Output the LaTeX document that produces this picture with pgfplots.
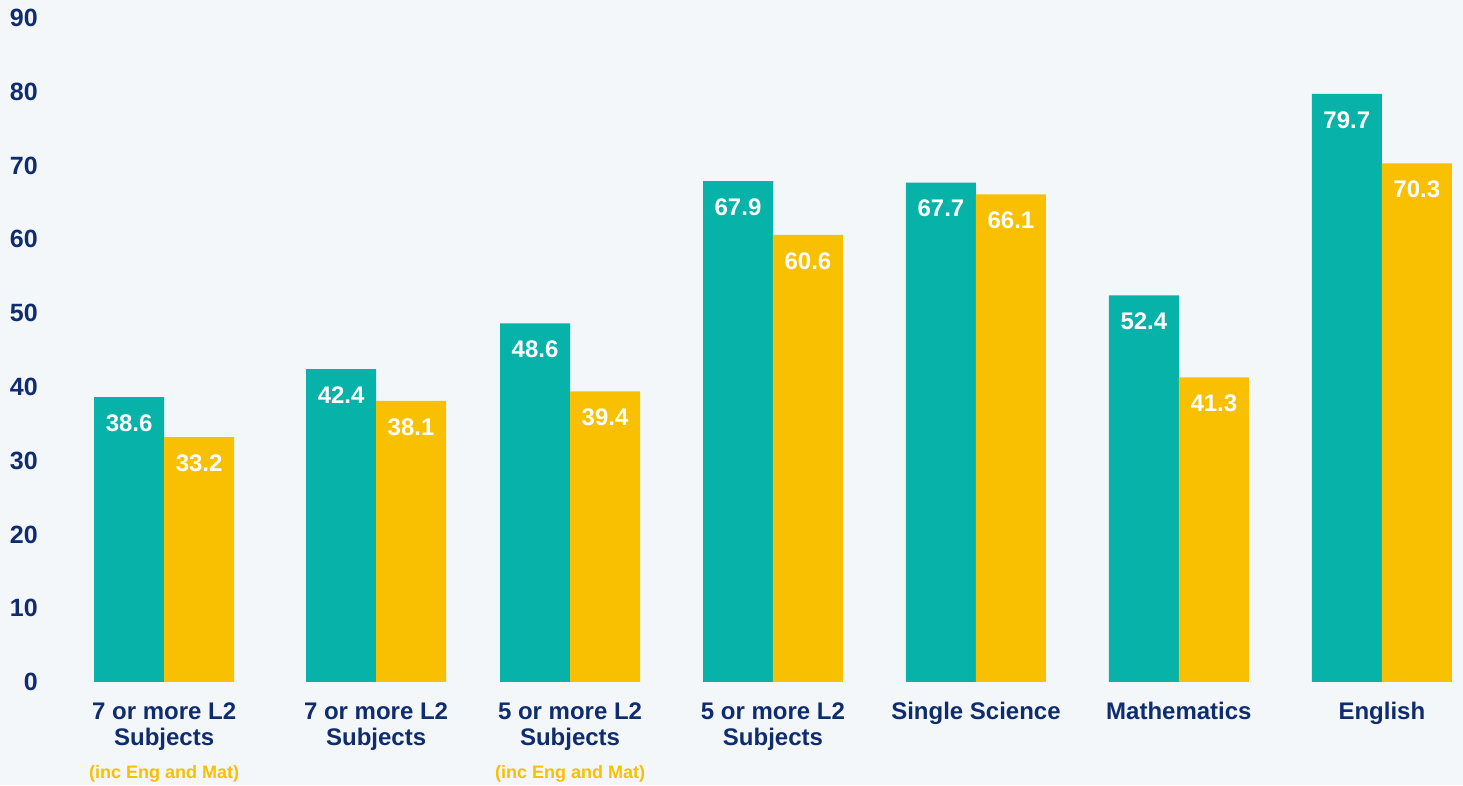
\documentclass[border=0pt]{standalone}
\usepackage{pgfplots}
\pgfplotsset{compat=1.18}
\usepackage{fontspec}
\setmainfont{Liberation Sans}
\definecolor{bgc}{HTML}{F3F7FA}
\definecolor{tealc}{HTML}{07B2A8}
\definecolor{yelc}{HTML}{F8C000}
\definecolor{navyc}{HTML}{0F2D6E}
\begin{document}
\begin{tikzpicture}
\begin{axis}[
  scale only axis, width=731.5pt, height=392.5pt,
  xmin=0, xmax=1463, ymin=-13.96, ymax=92.41,
  axis background/.style={fill=bgc},
  axis line style={draw=none},
  major tick length=0pt,
  ybar, bar width=70,
  ytick={0,10,...,90},
  xtick={164,376,570,773,976,1179,1382},
  xticklabels={
    {7 or more L2\\Subjects\\[3.5pt]{\color{yelc}\fontsize{9}{11}\selectfont (inc Eng and Mat)}},
    {7 or more L2\\Subjects},
    {5 or more L2\\Subjects\\[3.5pt]{\color{yelc}\fontsize{9}{11}\selectfont (inc Eng and Mat)}},
    {5 or more L2\\Subjects},
    {Single Science},
    {Mathematics},
    {English}},
  /pgf/number format/assume math mode=true,
  yticklabel style={anchor=east, inner sep=0pt, xshift=19pt, text=navyc, font=\fontsize{12.5}{15}\selectfont\bfseries},
  xticklabel style={anchor=north, inner sep=0pt, yshift=41.5pt, align=center, text=navyc, font=\fontsize{12}{13}\selectfont\bfseries},
  nodes near coords,
  nodes near coords style={anchor=north, inner sep=0pt, yshift=-8.5pt, text=white, font=\fontsize{12}{14}\selectfont\bfseries, /pgf/number format/.cd, fixed, fixed zerofill, precision=1, assume math mode=true},
  clip=false,
]
\addplot[fill=tealc, draw=none, bar shift=-35] coordinates {(164,38.6) (376,42.4) (570,48.6) (773,67.9) (976,67.7) (1179,52.4) (1382,79.7)};
\addplot[fill=yelc, draw=none, bar shift=35] coordinates {(164,33.2) (376,38.1) (570,39.4) (773,60.6) (976,66.1) (1179,41.3) (1382,70.3)};
\end{axis}
\end{tikzpicture}
\end{document}
